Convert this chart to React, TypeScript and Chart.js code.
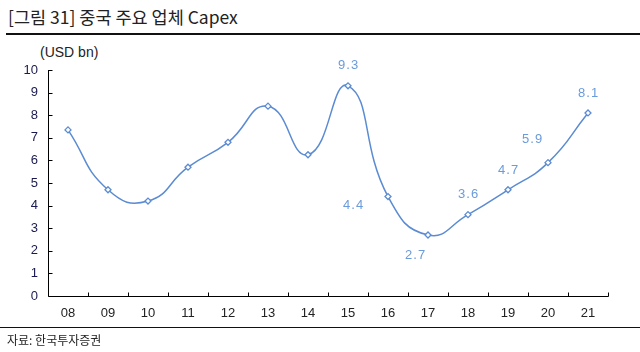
import React, { useEffect, useRef } from "react";
import { Chart, registerables } from "chart.js";

Chart.register(...registerables);

const categories = ["08", "09", "10", "11", "12", "13", "14", "15", "16", "17", "18", "19", "20", "21"];
const capex = [7.35, 4.7, 4.2, 5.7, 6.8, 8.4, 6.25, 9.3, 4.4, 2.7, 3.6, 4.7, 5.9, 8.1];
const valueLabels = ["", "", "", "", "", "", "", "9.3", "4.4", "2.7", "3.6", "4.7", "5.9", "8.1"];
const yTicks = [0, 1, 2, 3, 4, 5, 6, 7, 8, 9, 10];

// label pixel offsets relative to points (style)
const labelOffsets: [number, number][] = [
  [0, 0], [0, 0], [0, 0], [0, 0], [0, 0], [0, 0], [0, 0],
  [0, -20], [-35, 9], [-13, 20], [0, -20], [0, -19], [-16, -23], [0, -20],
];

const LINE = "#5b8bd2";
const LABEL = "#6b9bdb";

const axisPlugin = {
  id: "axisPlugin",
  afterDatasetsDraw(chart: any) {
    const { ctx, chartArea, scales } = chart;
    const x = scales.x;
    const y = scales.y;
    ctx.save();
    ctx.strokeStyle = "#000";
    ctx.lineWidth = 1;
    ctx.beginPath();
    const L = Math.round(chartArea.left) + 0.5;
    const B = Math.round(chartArea.bottom) + 0.5;
    ctx.moveTo(L, Math.round(chartArea.top));
    ctx.lineTo(L, B);
    ctx.lineTo(Math.round(chartArea.right) + 0.5, B);
    for (const v of yTicks) {
      const py = Math.round(y.getPixelForValue(v)) + 0.5;
      ctx.moveTo(L, py);
      ctx.lineTo(L + 4, py);
    }
    const n = categories.length;
    const step = x.getPixelForValue(1) - x.getPixelForValue(0);
    for (let i = 0; i < n; i++) {
      const px = Math.round(x.getPixelForValue(i) + step / 2) + 0.5;
      ctx.moveTo(px, B);
      ctx.lineTo(px, B - 4);
    }
    ctx.stroke();

    ctx.fillStyle = LABEL;
    ctx.font = "13px 'Liberation Sans', Arial, sans-serif";
    ctx.textAlign = "center";
    ctx.textBaseline = "middle";
    const meta = chart.getDatasetMeta(0);
    meta.data.forEach((pt: any, i: number) => {
      const t = valueLabels[i];
      if (!t) return;
      const [dx, dy] = labelOffsets[i];
      ctx.fillText(t.split("").join("\u200A"), pt.x + dx, pt.y + dy);
    });
    ctx.restore();
  },
};

export default function App() {
  const ref = useRef<HTMLCanvasElement | null>(null);
  useEffect(() => {
    if (!ref.current) return;
    const chart = new Chart(ref.current, {
      type: "line",
      data: {
        labels: categories,
        datasets: [
          {
            data: capex,
            borderColor: LINE,
            borderWidth: 1.5,
            tension: 0.5,
            pointStyle: "rectRot",
            pointRadius: 3,
            pointBorderWidth: 1.3,
            pointBackgroundColor: "#fff",
            pointBorderColor: LINE,
            fill: false,
          },
        ],
      },
      options: {
        responsive: false,
        animation: false,
        layout: { padding: { left: 0, top: 70, right: 32, bottom: 0 } },
        plugins: { legend: { display: false }, tooltip: { enabled: false } },
        scales: {
          x: {
            offset: true,
            grid: { display: false, drawTicks: false },
            border: { display: false },
            ticks: { color: "#222", font: { size: 13, family: "'Liberation Sans', Arial, sans-serif" }, padding: 10 },
            afterFit: (s: any) => { s.height = 56; },
          },
          y: {
            min: 0,
            max: 10,
            grid: { display: false, drawTicks: false },
            border: { display: false },
            ticks: { stepSize: 1, color: "#1a1a50", font: { size: 13, family: "'Liberation Sans', Arial, sans-serif" }, padding: 10 },
            afterFit: (s: any) => { s.width = 48; },
          },
        },
      },
      plugins: [axisPlugin],
    });
    return () => chart.destroy();
  }, []);

  return (
    <div style={{ position: "absolute", left: 0, top: 0, width: 640, height: 352, background: "#fff", overflow: "hidden", fontFamily: "'Noto Sans CJK KR', sans-serif" }}>
      <div style={{ position: "absolute", left: 8, top: 5, fontSize: 17.5, color: "#222", whiteSpace: "nowrap", lineHeight: "24px" }}>
        [그림 31] 중국 주요 업체 Capex
      </div>
      <div style={{ position: "absolute", left: 6, top: 33, width: 634, height: 2, background: "#111" }} />
      <div style={{ position: "absolute", left: 40, top: 44, fontSize: 14, color: "#222", fontFamily: "'Liberation Sans', Arial, sans-serif" }}>
        (USD bn)
      </div>
      <canvas ref={ref} width={640} height={352} style={{ position: "absolute", left: 0, top: 0, width: 640, height: 352 }} />
      <div style={{ position: "absolute", left: 0, top: 327, width: 640, height: 1, background: "#111" }} />
      <div style={{ position: "absolute", left: 7, top: 332, fontSize: 12, color: "#222", whiteSpace: "nowrap", lineHeight: "16px" }}>
        자료: 한국투자증권
      </div>
    </div>
  );
}
